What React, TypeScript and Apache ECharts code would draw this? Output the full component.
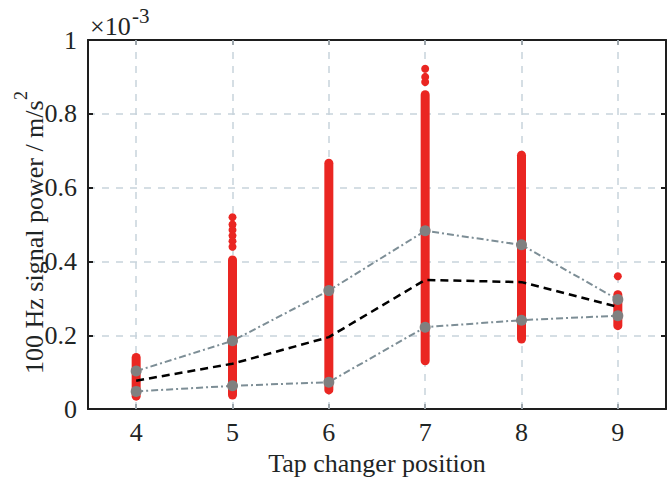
import React, { useEffect, useRef } from "react";
import * as echarts from "echarts";

// Values in units of 1e-3 m/s^2
const positions = [4, 5, 6, 7, 8, 9];
// Dense sample range per tap position (centres of the extreme points)
const sampleMin = [0.035, 0.038, 0.052, 0.131, 0.19, 0.226];
const sampleMax = [0.14, 0.404, 0.666, 0.852, 0.688, 0.31];
// Isolated samples outside the dense ranges: [position, value]
const outliers: [number, number][] = [
  [5, 0.52], [5, 0.5], [5, 0.485], [5, 0.47], [5, 0.455], [5, 0.44],
  [7, 0.922], [7, 0.9], [7, 0.886],
  [9, 0.36],
];
const upperLine = [0.103, 0.185, 0.321, 0.483, 0.445, 0.297];
const lowerLine = [0.048, 0.063, 0.073, 0.222, 0.241, 0.253];
const meanLine = [0.077, 0.123, 0.195, 0.35, 0.344, 0.277];

const FONT = "Liberation Serif";
const TEXT = "#1f2525";
const AXIS = "#1e1e1e";
const GRID = "#c8d4db";
const RED = "#ea2622";

export default function App() {
  const ref = useRef<HTMLDivElement>(null);
  useEffect(() => {
    if (!ref.current) return;
    const chart = echarts.init(ref.current, null, { renderer: "svg" });
    const axisLine = { show: true, onZero: false, lineStyle: { color: AXIS, width: 2 } };
    const tickStyle = { color: AXIS, width: 2 };
    const columnSeries = positions.map((p, i) => ({
      type: "line",
      data: [[p, sampleMin[i]], [p, sampleMax[i]]],
      symbol: "none",
      lineStyle: { color: RED, width: 9, cap: "round" },
      z: 2,
      silent: true,
    }));
    const option: any = {
      animation: false,
      backgroundColor: "#ffffff",
      grid: { left: 88, right: 3, top: 40, bottom: 64 },
      xAxis: [
        {
          type: "value",
          min: 3.5,
          max: 9.5,
          axisLine,
          axisTick: { show: true, inside: true, length: 5, customValues: positions, lineStyle: tickStyle },
          axisLabel: { customValues: positions, margin: 10, fontFamily: FONT, fontSize: 26, color: TEXT },
          splitLine: { show: false },
          name: "Tap changer position",
          nameLocation: "middle",
          nameGap: 38,
          nameTextStyle: { fontFamily: FONT, fontSize: 26, color: TEXT },
        },
        {
          type: "value",
          position: "top",
          min: 3.5,
          max: 9.5,
          axisLine,
          axisTick: { show: true, inside: true, length: 5, customValues: positions, lineStyle: tickStyle },
          axisLabel: { show: false },
          splitLine: { show: false },
        },
      ],
      yAxis: [
        {
          type: "value",
          min: 0,
          max: 1,
          interval: 0.2,
          axisLine,
          axisTick: { show: true, inside: true, length: 5, lineStyle: tickStyle },
          axisLabel: { margin: 11, fontFamily: FONT, fontSize: 26, color: TEXT },
          splitLine: { show: true, lineStyle: { color: GRID, width: 1.5, type: [7, 7] } },
        },
        {
          type: "value",
          position: "right",
          min: 0,
          max: 1,
          interval: 0.2,
          axisLine,
          axisTick: { show: true, inside: true, length: 5, lineStyle: tickStyle },
          axisLabel: { show: false },
          splitLine: { show: false },
        },
      ],
      graphic: [
        {
          type: "text",
          x: 34,
          y: 374,
          rotation: Math.PI / 2,
          style: { text: "100 Hz signal power / m/s", fontFamily: FONT, fontSize: 26, fill: TEXT, align: "left", verticalAlign: "middle" },
        },
        {
          type: "text",
          x: 21,
          y: 100,
          rotation: Math.PI / 2,
          style: { text: "2", fontFamily: FONT, fontSize: 18, fill: TEXT, align: "left", verticalAlign: "middle" },
        },
        {
          type: "text",
          x: 90,
          y: 26,
          style: { text: "×10", fontFamily: FONT, fontSize: 26, fill: TEXT, align: "left", verticalAlign: "middle" },
        },
        {
          type: "text",
          x: 132,
          y: 16,
          style: { text: "-3", fontFamily: FONT, fontSize: 21, fill: TEXT, align: "left", verticalAlign: "middle" },
        },
      ],
      series: [
        {
          type: "scatter",
          data: [],
          markLine: {
            silent: true,
            z: 1,
            symbol: "none",
            label: { show: false },
            lineStyle: { color: GRID, width: 1.5, type: [7, 7] },
            data: positions.map((p) => ({ xAxis: p })),
          },
        },
        ...columnSeries,
        {
          type: "scatter",
          data: outliers,
          symbolSize: 8,
          itemStyle: { color: RED, opacity: 1 },
          z: 2,
        },
        {
          type: "line",
          data: positions.map((p, i) => [p, upperLine[i]]),
          symbol: "circle",
          symbolSize: 11,
          itemStyle: { color: "#808080", opacity: 1 },
          lineStyle: { color: "#7d8e96", width: 2, type: [7, 3, 2, 3] },
          z: 3,
        },
        {
          type: "line",
          data: positions.map((p, i) => [p, lowerLine[i]]),
          symbol: "circle",
          symbolSize: 11,
          itemStyle: { color: "#808080", opacity: 1 },
          lineStyle: { color: "#7d8e96", width: 2, type: [7, 3, 2, 3] },
          z: 3,
        },
        {
          type: "line",
          data: positions.map((p, i) => [p, meanLine[i]]),
          symbol: "none",
          lineStyle: { color: "#000", width: 2.5, type: [8, 5] },
          z: 4,
        },
      ],
    };
    chart.setOption(option);
    return () => chart.dispose();
  }, []);
  return <div ref={ref} style={{ width: 669, height: 481, position: "absolute", left: 0, top: 0 }} />;
}
